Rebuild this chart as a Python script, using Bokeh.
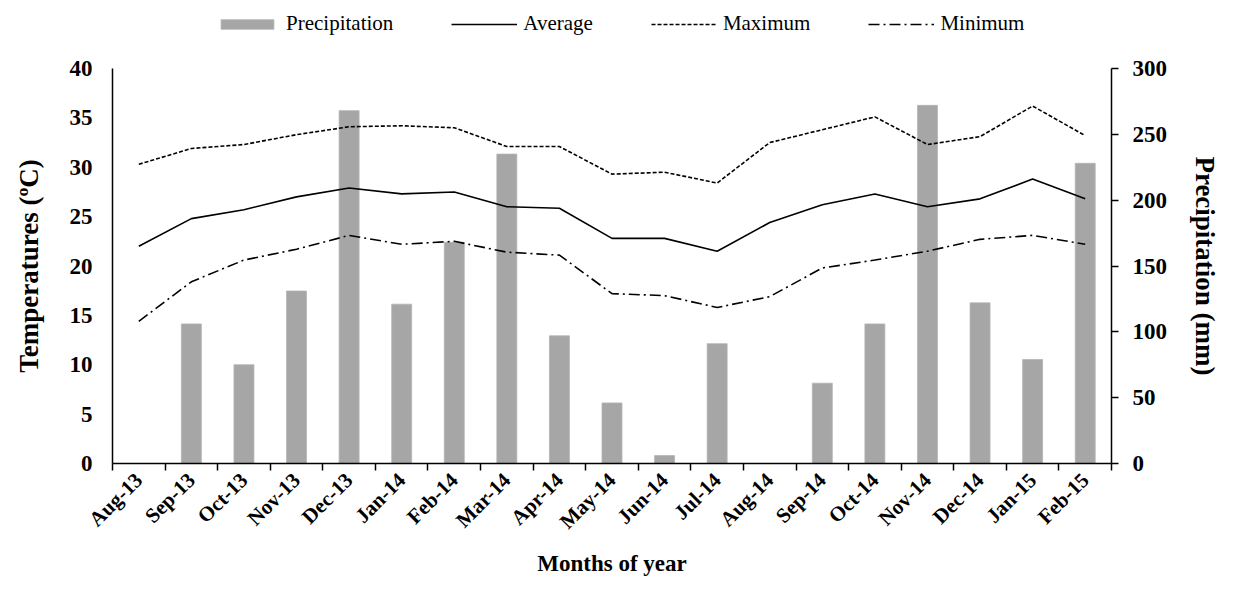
import math
from bokeh.plotting import figure
from bokeh.layouts import column
from bokeh.models import (Range1d, LinearAxis, FixedTicker, Legend, LegendItem,
                          ColumnDataSource)
from bokeh.embed import file_html
from bokeh.resources import INLINE

months = ["Aug-13", "Sep-13", "Oct-13", "Nov-13", "Dec-13", "Jan-14", "Feb-14",
          "Mar-14", "Apr-14", "May-14", "Jun-14", "Jul-14", "Aug-14", "Sep-14",
          "Oct-14", "Nov-14", "Dec-14", "Jan-15", "Feb-15"]
precipitation = [0, 106, 75, 131, 268, 121, 168, 235, 97, 46, 6, 91, 0, 61,
                 106, 272, 122, 79, 228]
average = [22.0, 24.8, 25.7, 27.0, 27.9, 27.3, 27.5, 26.0, 25.85, 22.8, 22.8,
           21.5, 24.4, 26.2, 27.3, 26.0, 26.8, 28.8, 26.8]
maximum = [30.3, 31.9, 32.3, 33.3, 34.1, 34.2, 34.0, 32.1, 32.1, 29.3, 29.5,
           28.4, 32.5, 33.8, 35.1, 32.3, 33.1, 36.2, 33.2]
minimum = [14.4, 18.4, 20.6, 21.7, 23.1, 22.2, 22.5, 21.4, 21.1, 17.2, 17.0,
           15.8, 16.9, 19.8, 20.6, 21.5, 22.7, 23.1, 22.2]
temp_ticks = [0, 5, 10, 15, 20, 25, 30, 35, 40]
precip_ticks = [0, 50, 100, 150, 200, 250, 300]
series_names = ["Precipitation", "Average", "Maximum", "Minimum"]

FONT = "Liberation Serif"
BAR_FILL = "#A6A6A6"
BAR_LINE = "#B4B4B4"
n = len(months)
xs = list(range(n))
src = ColumnDataSource(dict(x=xs, month=months, precip=precipitation,
                            avg=average, tmax=maximum, tmin=minimum))


def add_series(fig, bar_range="default"):
    """Draw the four series on a figure and return their renderers."""
    rb = fig.vbar(x="x", top="precip", width=0.38, source=src,
                  y_range_name=bar_range,
                  fill_color=BAR_FILL, line_color=BAR_LINE, line_width=0.8)
    rv = fig.line(x="x", y="avg", source=src, line_color="black", line_width=1.6)
    rx = fig.line(x="x", y="tmax", source=src, line_color="black", line_width=1.6,
                  line_dash="4 2")
    rn = fig.line(x="x", y="tmin", source=src, line_color="black", line_width=1.6,
                  line_dash="11 4 2 4")
    return rb, rv, rx, rn


# ---------------- legend strip (above the chart) ----------------
# The series are drawn here too, but the strip's y range lies far above the
# data, so only the legend shows.
LEG_H = 46
lg = figure(width=1223, height=LEG_H, output_backend="svg", toolbar_location=None,
            x_range=Range1d(-0.5, n - 0.5), y_range=Range1d(5000, 5001),
            x_axis_type=None, y_axis_type=None,
            min_border_left=0, min_border_right=0, min_border_top=0,
            min_border_bottom=0)
lg.outline_line_color = None
lg.xgrid.visible = False
lg.ygrid.visible = False
leg_renderers = add_series(lg)
legend = Legend(items=[LegendItem(label=name, renderers=[r])
                       for name, r in zip(series_names, leg_renderers)],
                orientation="horizontal", location=(102, 10))
legend.label_text_font = FONT
legend.label_text_font_size = "21px"
legend.label_text_color = "black"
legend.glyph_width = 66
legend.glyph_height = 12
legend.label_standoff = 6
legend.spacing = 58
legend.padding = 4
legend.margin = 0
legend.border_line_color = None
legend.background_fill_alpha = 0
lg.add_layout(legend, "center")

# ---------------- main chart ----------------
p = figure(width=1223, height=579 - LEG_H, output_backend="svg",
           toolbar_location=None,
           x_range=Range1d(-0.5, n - 0.5), y_range=Range1d(0, 40),
           min_border_left=112, min_border_right=108, min_border_top=68 - LEG_H,
           min_border_bottom=114)
p.outline_line_color = None
p.xgrid.visible = False
p.ygrid.visible = False
p.extra_y_ranges = {"precip": Range1d(0, 300)}
add_series(p, bar_range="precip")

# x axis
xa = p.xaxis[0]
xa.ticker = FixedTicker(ticks=xs, minor_ticks=[i - 0.5 for i in range(n + 1)])
xa.major_label_overrides = {i: m for i, m in enumerate(months)}
xa.major_label_orientation = math.pi / 4
xa.major_tick_out = 0
xa.major_tick_in = 0
xa.minor_tick_out = 7
xa.minor_tick_in = 0
xa.minor_tick_line_color = "black"
xa.minor_tick_line_width = 1.5
xa.axis_line_width = 1.5
xa.axis_line_color = "black"
xa.major_label_text_font = FONT
xa.major_label_text_font_style = "bold"
xa.major_label_text_font_size = "21px"
xa.major_label_text_color = "black"
xa.major_label_standoff = 6
xa.axis_label = "Months of year"
xa.axis_label_text_font = FONT
xa.axis_label_text_font_style = "bold"
xa.axis_label_text_font_size = "23px"
xa.axis_label_text_color = "black"
xa.axis_label_standoff = 6

# left axis
ya = p.yaxis[0]
ya.ticker = FixedTicker(ticks=temp_ticks)
ya.major_tick_out = 0
ya.major_tick_in = 0
ya.minor_tick_out = 0
ya.minor_tick_in = 0
ya.axis_line_width = 1.5
ya.axis_line_color = "black"
ya.major_label_text_font = FONT
ya.major_label_text_font_style = "bold"
ya.major_label_text_font_size = "23px"
ya.major_label_text_color = "black"
ya.major_label_standoff = 20
ya.axis_label = "Temperatures (ºC)"
ya.axis_label_text_font = FONT
ya.axis_label_text_font_style = "bold"
ya.axis_label_text_font_size = "27px"
ya.axis_label_text_color = "black"
ya.axis_label_standoff = 23

# right axis
ra = LinearAxis(y_range_name="precip", ticker=FixedTicker(ticks=precip_ticks))
ra.major_tick_out = 7
ra.major_tick_in = 0
ra.minor_tick_out = 0
ra.minor_tick_in = 0
ra.major_tick_line_width = 1.5
ra.axis_line_width = 1.5
ra.axis_line_color = "black"
ra.major_label_text_font = FONT
ra.major_label_text_font_style = "bold"
ra.major_label_text_font_size = "23px"
ra.major_label_text_color = "black"
ra.major_label_standoff = 14
ra.axis_label = "Precipitation (mm)"
ra.axis_label_text_font = FONT
ra.axis_label_text_font_style = "bold"
ra.axis_label_text_font_size = "27px"
ra.axis_label_text_color = "black"
ra.axis_label_standoff = 20
p.add_layout(ra, "right")

layout = column(lg, p, spacing=0)
open("out.html", "w").write(file_html(layout, INLINE))
